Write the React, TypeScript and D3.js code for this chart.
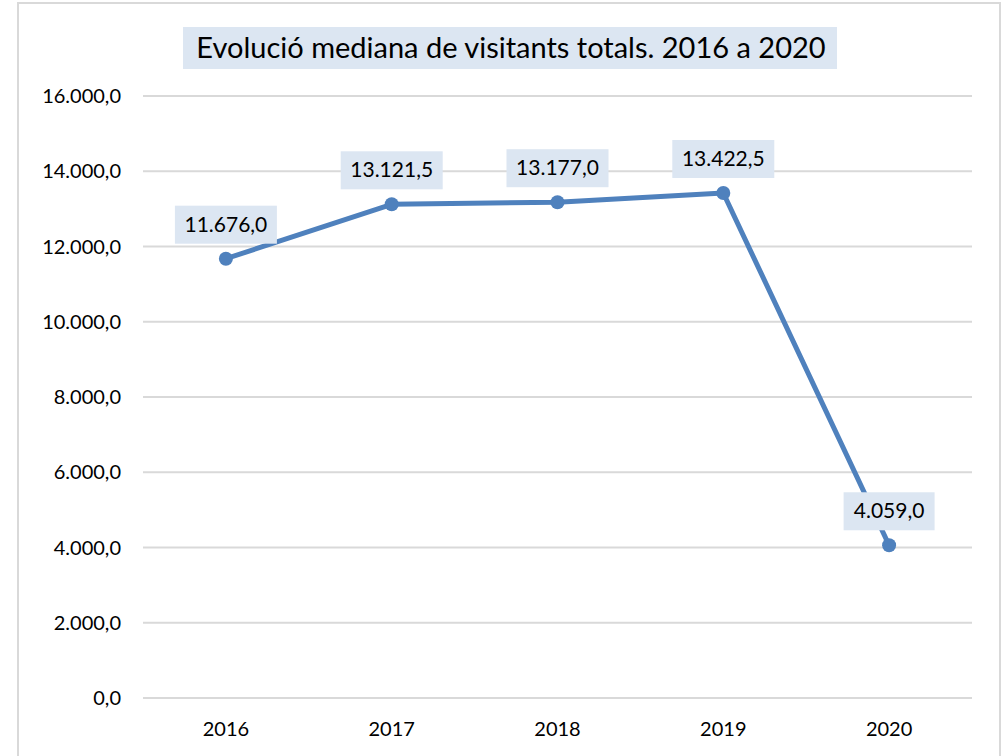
import React from "react";
import * as d3 from "d3";

const years = ["2016", "2017", "2018", "2019", "2020"];
const visitants = [11676.0, 13121.5, 13177.0, 13422.5, 4059.0];
const yTicks = [0, 2000, 4000, 6000, 8000, 10000, 12000, 14000, 16000];

const W = 1005;
const H = 756;
const font = "Lato, 'Open Sans', sans-serif";
const blue = "#4F81BD";
const boxFill = "#DCE6F2";

const fmt = (v: number) => {
  const [i, d] = v.toFixed(1).split(".");
  return i.replace(/\B(?=(\d{3})+(?!\d))/g, ".") + "," + d;
};

const App = () => {
  const x = d3.scaleBand().domain(years).range([143, 972]);
  const y = d3.scaleLinear().domain([0, 16000]).range([698, 96]);
  const cx = (d: string) => (x(d) as number) + x.bandwidth() / 2;

  const line = d3
    .line<number>()
    .x((d, i) => cx(years[i]))
    .y((d) => y(d));

  return (
    <div style={{ position: "absolute", left: 0, top: 0 }}>
      <svg width={W} height={H} style={{ display: "block", fontFamily: font }}>
        <rect x={0} y={0} width={W} height={H} fill="#fff" />
        <rect x={18} y={3} width={982} height={H + 20} fill="#fff" stroke="#D9D9D9" strokeWidth={2} />

        {/* title */}
        <rect x={183} y={27} width={654} height={42} fill={boxFill} />
        <text x={511} y={58} textAnchor="middle" fontSize={29} fill="#000">
          Evolució mediana de visitants totals. 2016 a 2020
        </text>

        {/* grid + y labels */}
        {yTicks.map((t) => (
          <g key={t}>
            <line x1={143} x2={972} y1={y(t)} y2={y(t)} stroke="#D9D9D9" strokeWidth={2} />
            <text x={121} y={y(t) + 7} textAnchor="end" fontSize={20} fill="#000">
              {fmt(t)}
            </text>
          </g>
        ))}

        {/* x labels */}
        {years.map((yr) => (
          <text key={yr} x={cx(yr)} y={736} textAnchor="middle" fontSize={20} fill="#000">
            {yr}
          </text>
        ))}

        <path d={line(visitants) || ""} fill="none" stroke={blue} strokeWidth={5} strokeLinejoin="round" />

        {visitants.map((v, i) => (
          <circle key={i} cx={cx(years[i])} cy={y(v)} r={7} fill={blue} />
        ))}

        {/* data labels */}
        {visitants.map((v, i) => {
          const label = fmt(v);
          const bw = label.length * 11 + 14;
          const px = cx(years[i]);
          const py = y(v);
          return (
            <g key={"l" + i}>
              <rect x={px - bw / 2} y={py - 53} width={bw} height={38} fill={boxFill} />
              <text x={px} y={py - 27} textAnchor="middle" fontSize={21} fill="#000">
                {label}
              </text>
            </g>
          );
        })}
      </svg>
    </div>
  );
};

export default App;
